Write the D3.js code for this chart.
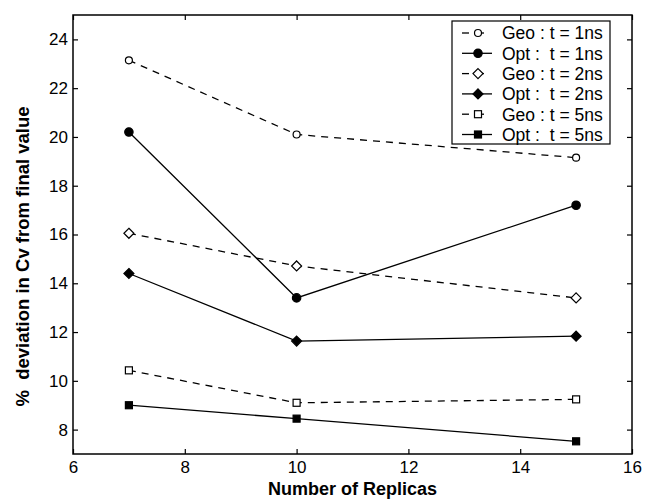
<!DOCTYPE html>
<html>
<head>
<meta charset="utf-8">
<script src="https://cdn.jsdelivr.net/npm/d3@7"></script>
<style>
  body { margin: 0; background: #fff; }
  svg text { font-family: "Liberation Sans", Arial, sans-serif; fill: #000; }
</style>
</head>
<body>
<div id="chart"></div>
<script>
// Data
const replicas = [7, 10, 15];
const seriesNames = ["Geo : t = 1ns", "Opt :  t = 1ns", "Geo : t = 2ns", "Opt :  t = 2ns", "Geo : t = 5ns", "Opt :  t = 5ns"];
const geo1 = [23.14, 20.1, 19.15];
const opt1 = [20.2, 13.4, 17.2];
const geo2 = [16.05, 14.71, 13.4];
const opt2 = [14.4, 11.63, 11.83];
const geo5 = [10.43, 9.1, 9.24];
const opt5 = [9.0, 8.45, 7.52];
const xTicks = [6, 8, 10, 12, 14, 16];
const yTicks = [8, 10, 12, 14, 16, 18, 20, 22, 24];

const series = [
  { name: seriesNames[0], values: geo1, dashed: true, marker: "circle", filled: false },
  { name: seriesNames[1], values: opt1, dashed: false, marker: "circle", filled: true },
  { name: seriesNames[2], values: geo2, dashed: true, marker: "diamond", filled: false },
  { name: seriesNames[3], values: opt2, dashed: false, marker: "diamond", filled: true },
  { name: seriesNames[4], values: geo5, dashed: true, marker: "square", filled: false },
  { name: seriesNames[5], values: opt5, dashed: false, marker: "square", filled: true }
];

const margin = { top: 15, right: 13, bottom: 47, left: 73 };
const totalW = 645, totalH = 501;
const width = totalW - margin.left - margin.right;
const height = totalH - margin.top - margin.bottom;

const svg = d3.select("#chart").append("svg")
  .attr("width", totalW)
  .attr("height", totalH);

const g = svg.append("g")
  .attr("transform", `translate(${margin.left},${margin.top})`);

const x = d3.scaleLinear().domain([6, 16]).range([0, width]);
const y = d3.scaleLinear().domain([7, 25]).range([height, 0]);

// Axes with inward ticks on all four sides
g.append("g")
  .attr("transform", `translate(0,${height})`)
  .call(d3.axisBottom(x).tickValues(xTicks).tickSizeInner(-5).tickSizeOuter(0).tickPadding(7))
  .call(a => a.selectAll("text").attr("font-size", 17));
g.append("g")
  .call(d3.axisTop(x).tickValues(xTicks).tickSizeInner(-5).tickSizeOuter(0).tickFormat(""));
g.append("g")
  .call(d3.axisLeft(y).tickValues(yTicks).tickSizeInner(-5).tickSizeOuter(0).tickPadding(5))
  .call(a => a.selectAll("text").attr("font-size", 17));
g.append("g")
  .attr("transform", `translate(${width},0)`)
  .call(d3.axisRight(y).tickValues(yTicks).tickSizeInner(-5).tickSizeOuter(0).tickFormat(""));
g.selectAll(".domain").remove();
g.selectAll(".tick line").attr("stroke", "#000").attr("stroke-width", 1.2);

g.append("rect")
  .attr("width", width)
  .attr("height", height)
  .attr("fill", "none")
  .attr("stroke", "#000")
  .attr("stroke-width", 1.5);

// Marker drawing helper
function drawMarker(sel, s, cx, cy) {
  const fill = s.filled ? "#000" : "#fff";
  if (s.marker === "circle") {
    sel.append("circle").attr("cx", cx).attr("cy", cy)
      .attr("r", s.filled ? 4.2 : 3.5)
      .attr("fill", fill).attr("stroke", "#000").attr("stroke-width", 1.2);
  } else if (s.marker === "diamond") {
    const r = 5;
    sel.append("path")
      .attr("d", `M${cx},${cy - r}L${cx + r},${cy}L${cx},${cy + r}L${cx - r},${cy}Z`)
      .attr("fill", fill).attr("stroke", "#000").attr("stroke-width", 1.2);
  } else {
    const h = 3.5;
    sel.append("rect").attr("x", cx - h).attr("y", cy - h)
      .attr("width", 2 * h).attr("height", 2 * h)
      .attr("fill", fill).attr("stroke", "#000").attr("stroke-width", 1.2);
  }
}

const line = d3.line()
  .x((d, i) => x(replicas[i]))
  .y(d => y(d));

series.forEach(s => {
  g.append("path")
    .datum(s.values)
    .attr("d", line)
    .attr("fill", "none")
    .attr("stroke", "#000")
    .attr("stroke-width", 1.3)
    .attr("stroke-dasharray", s.dashed ? "7,6" : null);
  const mg = g.append("g");
  s.values.forEach((v, i) => drawMarker(mg, s, x(replicas[i]), y(v)));
});

// Legend
const legend = g.append("g").attr("transform", "translate(379,6)");
legend.append("rect")
  .attr("width", 158)
  .attr("height", 123)
  .attr("fill", "#fff")
  .attr("stroke", "#000")
  .attr("stroke-width", 1.2);

series.forEach((s, i) => {
  const ly = 12 + i * 20.3;
  const row = legend.append("g");
  if (s.dashed) {
    row.append("line").attr("x1", 10).attr("x2", 17).attr("y1", ly).attr("y2", ly)
      .attr("stroke", "#000").attr("stroke-width", 1.3);
    row.append("line").attr("x1", 23).attr("x2", 32).attr("y1", ly).attr("y2", ly)
      .attr("stroke", "#000").attr("stroke-width", 1.3);
  } else {
    row.append("line").attr("x1", 10).attr("x2", 40).attr("y1", ly).attr("y2", ly)
      .attr("stroke", "#000").attr("stroke-width", 1.3);
  }
  drawMarker(row, s, 26, ly);
  row.append("text")
    .attr("x", 50)
    .attr("y", ly)
    .attr("dy", "0.36em")
    .attr("font-size", 17.5)
    .attr("xml:space", "preserve")
    .style("white-space", "pre")
    .text(s.name);
});

// Axis titles
svg.append("text")
  .attr("x", margin.left + width / 2)
  .attr("y", 495)
  .attr("text-anchor", "middle")
  .attr("font-size", 18)
  .attr("font-weight", "bold")
  .text("Number of Replicas");

svg.append("text")
  .attr("transform", "rotate(-90)")
  .attr("x", -(margin.top + height / 2 + 22))
  .attr("y", 29)
  .attr("text-anchor", "middle")
  .attr("font-size", 18.5)
  .attr("font-weight", "bold")
  .attr("xml:space", "preserve")
  .style("white-space", "pre")
  .text("%  deviation in Cv from final value");
</script>
</body>
</html>
